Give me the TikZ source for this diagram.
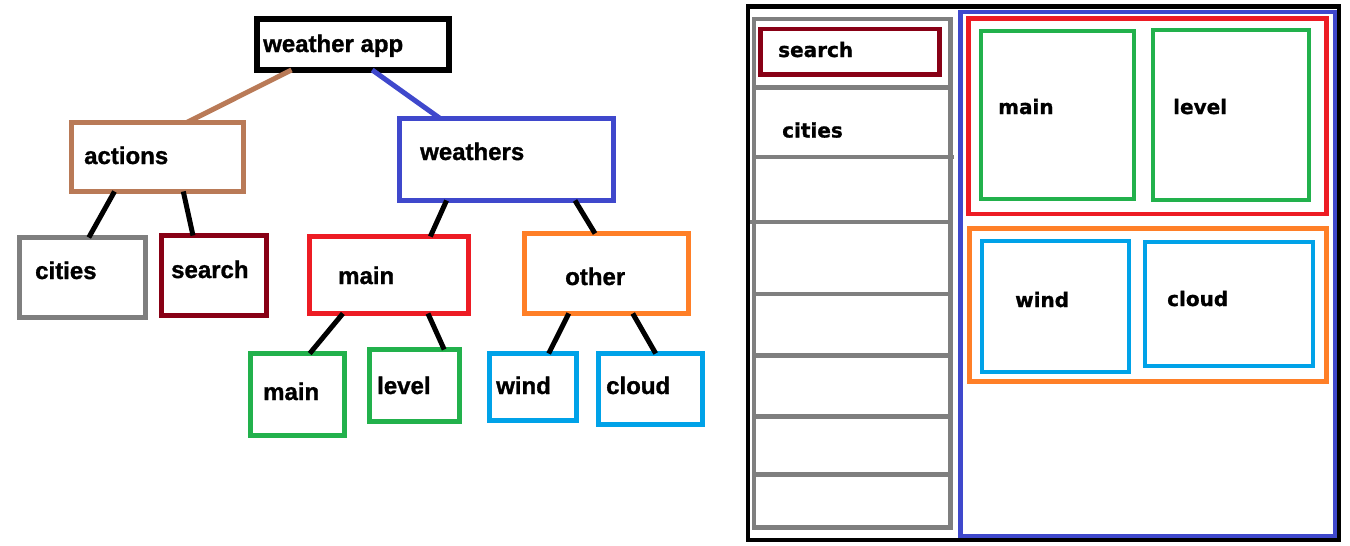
\documentclass[tikz,border=0pt]{standalone}
\usepackage{fontspec}
\setmainfont{Liberation Sans}
\newfontfamily\lsfont[FakeBold=1.2]{Liberation Sans Bold}
\newfontfamily\dvfont[FakeBold=1.0]{DejaVu Sans Bold}
\usetikzlibrary{fit,calc}
\definecolor{cbrown}{HTML}{B97A57}
\definecolor{cblue}{HTML}{3F48CC}
\definecolor{cgray}{HTML}{7F7F7F}
\definecolor{cdred}{HTML}{880015}
\definecolor{cred}{HTML}{ED1C24}
\definecolor{corange}{HTML}{FF7F27}
\definecolor{cgreen}{HTML}{22B14C}
\definecolor{clblue}{HTML}{00A2E8}
\tikzset{
  bx/.style={draw=#1, line width=5pt, inner sep=0pt, outer sep=0pt},
  rb/.style={draw=#1, line width=4.5pt, inner sep=0pt, outer sep=0pt},
  lt/.style={anchor=base west, inner sep=0pt, font=\fontsize{24}{28}\selectfont\lsfont},
  rt/.style={anchor=base west, inner sep=0pt, font=\fontsize{20}{24}\selectfont\dvfont},
  conn/.style={line width=5pt, draw=black},
  div/.style={draw=cgray, line width=4.5pt},
}
\begin{document}
\begin{tikzpicture}[x=1pt,y=-1pt]
\useasboundingbox (0,0) rectangle (1350,546);
% ---------- left tree ----------
\node[bx=black, line width=6pt, fit={(257,19)(449,70)}] (app) {};
\node[bx=cbrown, fit={(71.5,122.5)(243.5,191.5)}] (actions) {};
\node[bx=cblue, fit={(399.5,118.5)(613.5,200.5)}] (weathers) {};
\node[bx=cgray, fit={(19.5,237.5)(145.5,317.5)}] (cities) {};
\node[bx=cdred, fit={(161.5,235.5)(266.5,315.5)}] (search) {};
\node[bx=cred, fit={(309.5,236.5)(468.5,313.5)}] (mainr) {};
\node[bx=corange, fit={(524.5,233.5)(688.5,313.5)}] (other) {};
\node[bx=cgreen, fit={(250.5,353.5)(344.5,435.5)}] (maing) {};
\node[bx=cgreen, fit={(369.5,349.5)(459.5,421.5)}] (level) {};
\node[bx=clblue, fit={(489.5,353.5)(576.5,420.5)}] (wind) {};
\node[bx=clblue, fit={(598.5,353.5)(702.5,424.5)}] (cloud) {};

\node[lt] (tapp) at (263,52) {weather app};
\node[lt] (tactions) at (84,164) {actions};
\node[lt] (tweathers) at (420,160) {weathers};
\node[lt] (tcities) at (35,279) {cities};
\node[lt] (tsearch) at (171,278) {search};
\node[lt] (tmainr) at (338,284) {main};
\node[lt] (tother) at (565,285) {other};
\node[lt] (tmaing) at (263,400) {main};
\node[lt] (tlevel) at (377,394) {level};
\node[lt] (twind) at (496,394) {wind};
\node[lt] (tcloud) at (606,394) {cloud};

\draw[conn, draw=cbrown] ($(app.south west)!0.18!(app.south east)$) -- ($(actions.north west)!0.67!(actions.north east)$);
\draw[conn, draw=cblue] ($(app.south west)!0.60!(app.south east)$) -- ($(weathers.north west)!0.19!(weathers.north east)$);
\draw[conn] ($(actions.south west)!0.25!(actions.south east)$) -- ($(cities.north west)!0.55!(cities.north east)$);
\draw[conn] ($(actions.south west)!0.65!(actions.south east)$) -- ($(search.north west)!0.30!(search.north east)$);
\draw[conn] ($(weathers.south west)!0.22!(weathers.south east)$) -- ($(mainr.north west)!0.76!(mainr.north east)$);
\draw[conn] ($(weathers.south west)!0.82!(weathers.south east)$) -- ($(other.north west)!0.43!(other.north east)$);
\draw[conn] ($(mainr.south west)!0.21!(mainr.south east)$) -- ($(maing.north west)!0.63!(maing.north east)$);
\draw[conn] ($(mainr.south west)!0.745!(mainr.south east)$) -- ($(level.north west)!0.83!(level.north east)$);
\draw[conn] ($(other.south west)!0.27!(other.south east)$) -- ($(wind.north west)!0.68!(wind.north east)$);
\draw[conn] ($(other.south west)!0.66!(other.south east)$) -- ($(cloud.north west)!0.55!(cloud.north east)$);

% ---------- right layout ----------
\node[rb=black, fit={(748,6.5)(1339,540)}] (frame) {};
\node[rb=cgray, fit={(754,19)(950.5,527.5)}] (col) {};
\foreach \yy/\xa/\xb in {87.5/754/950.5, 157/754/954, 222/750/950.5, 294/754/950.5, 355.5/754/950.5, 416.5/754/950.5, 474.5/754/950.5}
  \draw[div] (\xa,\yy) -- (\xb,\yy);
\node[rb=cdred, fit={(760.5,29)(939.5,74.5)}] (rsearch) {};
\node[rb=cblue, fit={(960.5,12)(1335,536)}] (rweathers) {};
\node[rb=cred, fit={(968.5,18.5)(1326.5,214)}] (rmain) {};
\node[rb=cgreen, fit={(981,31)(1134,199)}] (rmaing) {};
\node[rb=cgreen, fit={(1153,30)(1309,200)}] (rlevel) {};
\node[rb=corange, fit={(969.5,228.5)(1326.5,381.5)}] (rother) {};
\node[rb=clblue, fit={(982,241)(1129,372)}] (rwind) {};
\node[rb=clblue, fit={(1145,242)(1313,366)}] (rcloud) {};

\node[rt] (trsearch) at (778,57) {search};
\node[rt] (trcities) at (782,137.5) {cities};
\node[rt] (trmain) at (998,114) {main};
\node[rt] (trlevel) at (1173,114) {level};
\node[rt] (trwind) at (1015,307) {wind};
\node[rt] (trcloud) at (1167,306) {cloud};
\end{tikzpicture}
\end{document}
